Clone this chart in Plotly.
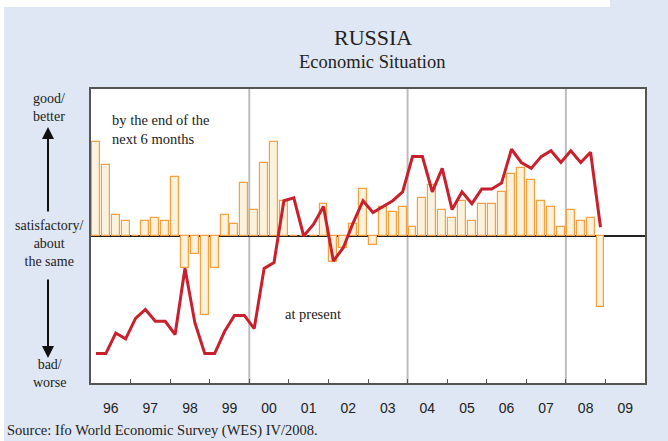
import plotly.graph_objects as go

# Quarterly data 1996Q1 .. 2008Q4
years = list(range(1996, 2009))
quarters = [1, 2, 3, 4]
expectations = [  # bars: "by the end of the next 6 months"
    64, 48, 14, 10,      # 96
    0, 10, 12, 10,       # 97
    40, -22, -12, -54,   # 98
    -22, 14, 8, 36,      # 99
    18, 50, 64, 24,      # 00
    0, 0, 0, 22,         # 01
    -18, -8, 8, 32,      # 02
    -6, 20, 16, 20,      # 03
    6, 26, 35, 18,       # 04
    12, 24, 10, 22,      # 05
    22, 30, 42, 46,      # 06
    38, 24, 20, 6,       # 07
    18, 10, 12, -48,     # 08
]
present = [  # line: "at present"
    -80, -80, -66, -70,
    -56, -50, -58, -58,
    -67, -22, -59, -80,
    -80, -65, -54, -54,
    -63, -22, -18, 24,
    26, 0, 8, 20,
    -17, -8, 9, 24,
    16, 20, 24, 30,
    54, 54, 30, 46,
    18, 30, 22, 32,
    32, 36, 59, 50,
    46, 54, 58, 50,
    58, 50, 57, 6,
]
year_labels = ["96", "97", "98", "99", "00", "01", "02", "03", "04", "05", "06", "07", "08", "09"]
label_years = list(range(1996, 2010))

xq = [y + (q - 0.5) / 4 for y in years for q in quarters]

serif = "Liberation Serif, Times New Roman, serif"
sans = "Liberation Sans, Arial, sans-serif"
blue_bg = "#dfe7f4"
txt = "#222222"

L, R, T, B = 91, 645, 89, 383
PW, PH = R - L, B - T


def px(xp):
    return (xp - L) / PW


def py(yp):
    return (B - yp) / PH


fig = go.Figure()
fig.add_trace(go.Bar(
    x=xq, y=expectations, width=0.2,
    marker=dict(color="#faf2dc", line=dict(color="#f5a042", width=1.2)),
    showlegend=False, hoverinfo="skip",
))
fig.add_trace(go.Scatter(
    x=xq, y=present, mode="lines",
    line=dict(color="#c8202c", width=3),
    showlegend=False, hoverinfo="skip",
))

# grey year separators
for xv in [2000, 2004, 2008]:
    fig.add_shape(type="line", x0=xv, x1=xv, y0=-100, y1=100, xref="x", yref="y",
                  line=dict(color="#bdbdbd", width=2), layer="below")

# white edge strips
fig.add_shape(type="rect", xref="paper", yref="paper",
              x0=px(0), x1=px(610), y0=py(7), y1=py(0),
              fillcolor="white", line=dict(width=0), layer="above")
fig.add_shape(type="rect", xref="paper", yref="paper",
              x0=px(0), x1=px(4), y0=py(441), y1=py(0),
              fillcolor="white", line=dict(width=0), layer="above")


def label(text, xp, yp, size, xanchor="center", align="center", xref="paper", yref="paper"):
    return dict(text=text, x=xp, y=yp, xref=xref, yref=yref, xanchor=xanchor, yanchor="middle",
                showarrow=False, align=align, font=dict(family=serif, size=size, color=txt))


ann = [
    label("RUSSIA", px(373), py(38), 22),
    label("Economic Situation", px(372), py(62), 18.5),
    label("good/<br>better", px(49), py(108), 14),
    label("satisfactory/<br>about<br>the same", px(49), py(243), 14),
    label("bad/<br>worse", px(49), py(373), 14),
    label("by the end of the<br>next 6 months", 1996.47, 72.5, 14.5, xanchor="left", align="left",
          xref="x", yref="y"),
    label("at present", 2001.6, -53, 14.5, xref="x", yref="y"),
    label("Source: Ifo World Economic Survey (WES) IV/2008.", px(5), py(430), 14.5, xanchor="left"),
]
# arrows
ann.append(dict(text="", x=px(48), y=py(127), xref="paper", yref="paper",
                showarrow=True, ax=0, ay=86, arrowhead=2, arrowsize=1.2, arrowwidth=2, arrowcolor="#111"))
ann.append(dict(text="", x=px(48), y=py(358), xref="paper", yref="paper",
                showarrow=True, ax=0, ay=-80, arrowhead=2, arrowsize=1.2, arrowwidth=2, arrowcolor="#111"))

fig.update_layout(
    width=668, height=441,
    margin=dict(l=L, r=668 - R, t=T, b=441 - B, autoexpand=False),
    paper_bgcolor=blue_bg, plot_bgcolor="white",
    bargap=0, annotations=ann,
    xaxis=dict(range=[1996, 2010], showgrid=False, zeroline=False, automargin=False,
               tickvals=[y + 0.5 for y in label_years], ticktext=year_labels,
               ticks="", ticklabelstandoff=11,
               tickfont=dict(family=sans, size=14, color=txt),
               showline=True, linecolor="#555", linewidth=1.5, mirror=True,
               minor=dict(tickvals=list(range(1997, 2010)), ticks="inside", ticklen=4,
                          tickcolor="#555", tickwidth=1)),
    yaxis=dict(range=[-100, 100], showgrid=False, showticklabels=False, ticks="", automargin=False,
               zeroline=True, zerolinecolor="#222", zerolinewidth=1.5,
               showline=True, linecolor="#555", linewidth=1.5, mirror=True),
)

fig.write_html("out.html", config={"displayModeBar": False},
               post_script="document.body.style.margin='0';")
